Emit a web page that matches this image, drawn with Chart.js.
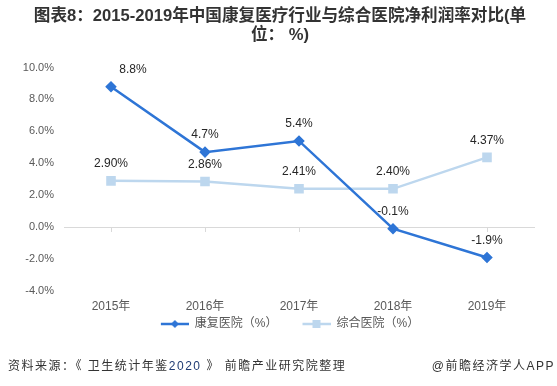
<!DOCTYPE html>
<html><head><meta charset="utf-8">
<script src="https://cdn.jsdelivr.net/npm/chart.js@4"></script>
<style>
html,body{margin:0;padding:0;background:#fff;}
#wrap{position:relative;width:557px;height:386px;}
#c{position:absolute;left:0;top:0;}
.src{position:absolute;top:356px;font:12px "Liberation Sans","Noto Sans CJK SC",sans-serif;color:#333;white-space:nowrap;letter-spacing:1.5px;}
</style></head>
<body>
<div id="wrap">
<canvas id="c" width="557" height="386"></canvas>
<div class="src" style="left:8px;">资料来源：《 卫生统计年鉴<span style="color:#1f3b73">2020</span> 》 前瞻产业研究院整理</div>
<div class="src" style="right:2px;">@前瞻经济学人APP</div>
</div>
<script>
const titleLines = ['图表8：2015-2019年中国康复医疗行业与综合医院净利润率对比(单', '位： %)'];
const categories = ['2015年', '2016年', '2017年', '2018年', '2019年'];
const seriesNames = ['康复医院（%）', '综合医院（%）'];
const rehabValues = [8.8, 4.7, 5.4, -0.1, -1.9];
const generalValues = [2.90, 2.86, 2.41, 2.40, 4.37];
const yTicks = [-4, -2, 0, 2, 4, 6, 8, 10];

const FONT = '"Liberation Sans","Noto Sans CJK SC",sans-serif';
const DARK = '#2E75D6';
const LIGHT = '#BDD7EE';

function legendIcon(color, style) {
  const lead = 20;
  const cv = document.createElement('canvas');
  cv.width = 28 + lead; cv.height = 10;
  const g = cv.getContext('2d');
  g.strokeStyle = color; g.lineWidth = 2.5;
  g.beginPath(); g.moveTo(lead, 5); g.lineTo(lead + 28, 5); g.stroke();
  g.fillStyle = color;
  if (style === 'diamond') {
    g.beginPath(); g.moveTo(lead + 14, 1); g.lineTo(lead + 18, 5); g.lineTo(lead + 14, 9); g.lineTo(lead + 10, 5); g.closePath(); g.fill();
  } else {
    g.fillRect(lead + 10, 1, 8, 8);
  }
  return cv;
}

const labelPlugin = {
  id: 'pointLabels',
  afterDatasetsDraw(chart) {
    const ctx = chart.ctx;
    ctx.save();
    ctx.font = '12px ' + FONT;
    ctx.fillStyle = '#262626';
    ctx.textAlign = 'center';
    ctx.textBaseline = 'middle';
    chart.data.datasets.forEach((ds, di) => {
      const meta = chart.getDatasetMeta(di);
      meta.data.forEach((pt, i) => {
        const txt = ds.data[i].toFixed(ds.decimals) + '%';
        const dx = (ds.labelShift && ds.labelShift[i]) || 0;
        ctx.fillText(txt, pt.x + dx, pt.y - 17);
      });
    });
    ctx.restore();
  }
};

new Chart(document.getElementById('c'), {
  type: 'line',
  data: {
    labels: categories,
    datasets: [
      { label: seriesNames[0], data: rehabValues, decimals: 1, labelShift: [22, 0, 0, 0, 0],
        borderColor: DARK, backgroundColor: DARK, borderWidth: 2.5,
        pointStyle: 'rectRot', pointRadius: 4, pointHoverRadius: 4, tension: 0 },
      { label: seriesNames[1], data: generalValues, decimals: 2,
        borderColor: LIGHT, backgroundColor: LIGHT, borderWidth: 2.5,
        pointStyle: 'rect', pointRadius: 5, pointHoverRadius: 5, tension: 0 }
    ]
  },
  options: {
    responsive: false,
    animation: false,
    events: [],
    layout: { padding: { left: 14, right: 11, top: 0, bottom: 46 } },
    plugins: {
      title: {
        display: true, text: titleLines, color: '#333',
        font: { family: FONT, size: 16.6, weight: 'bold', lineHeight: 1.16 },
        padding: { top: 7, bottom: 22 }
      },
      legend: {
        position: 'bottom',
        labels: {
          usePointStyle: true, pointStyleWidth: 48, boxHeight: 10,
          color: '#595959', font: { family: FONT, size: 12 }, padding: 5,
          generateLabels(chart) {
            return chart.data.datasets.map((ds, i) => ({
              text: ds.label, fillStyle: ds.borderColor, strokeStyle: ds.borderColor,
              lineWidth: 0, pointStyle: legendIcon(ds.borderColor, i === 0 ? 'diamond' : 'square'),
              datasetIndex: i, fontColor: '#595959'
            }));
          }
        }
      },
      tooltip: { enabled: false }
    },
    scales: {
      x: {
        offset: true,
        grid: { display: false, drawTicks: false },
        border: { display: false },
        ticks: { color: '#595959', font: { family: FONT, size: 12 }, padding: 8, maxRotation: 0 },
        afterFit(scale) { scale.height = 22; }
      },
      x2: {
        type: 'category',
        position: { y: 0 },
        offset: true,
        grid: { display: true, drawOnChartArea: false, drawTicks: true, tickLength: 4, color: '#d9d9d9', offset: false },
        border: { display: true, color: '#d9d9d9', width: 1 },
        ticks: { display: false },
        afterFit(scale) { scale.height = 0; }
      },
      y: {
        min: -4, max: 10,
        afterBuildTicks(scale) { scale.ticks = yTicks.map(v => ({ value: v })); },
        afterFit(scale) { scale.width = 50; },
        grid: { display: false, drawTicks: false },
        border: { display: false },
        ticks: { color: '#595959', font: { family: FONT, size: 11 }, padding: 10,
          callback: v => v.toFixed(1) + '%' }
      },
      yRight: {
        position: 'right',
        min: -4, max: 10,
        grid: { display: false, drawTicks: false },
        border: { display: false },
        ticks: { display: false },
        afterFit(scale) { scale.width = 12; }
      }
    }
  },
  plugins: [labelPlugin]
});
</script>
</body></html>
